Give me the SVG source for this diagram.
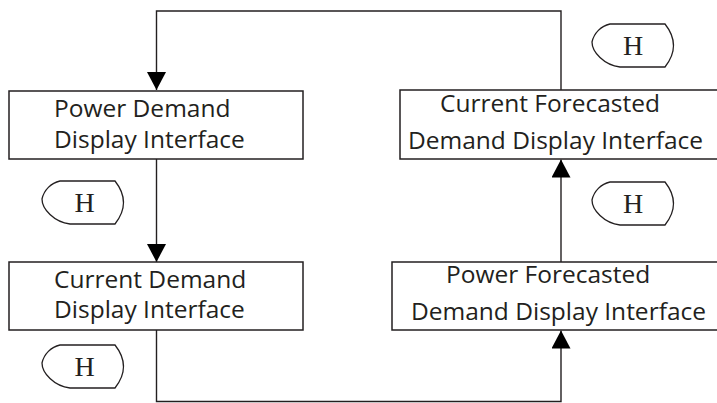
<svg xmlns="http://www.w3.org/2000/svg" width="717" height="403" viewBox="0 0 717 403">
<style>
.box{fill:#fff;stroke:#231f20;stroke-width:1.5}
.lbl{font-family:"Open Sans","Liberation Sans",sans-serif;font-size:24.5px;fill:#231f20}
.conn{fill:none;stroke:#231f20;stroke-width:1.4}
.disp{fill:#fff;stroke:#231f20;stroke-width:1.3}
.h{font-family:"Liberation Serif","Times New Roman",serif;font-size:28px;fill:#231f20;text-anchor:middle}
</style>
<defs>
<marker id="arr" viewBox="0 0 18 19" refX="18" refY="9.5" markerWidth="18" markerHeight="19" markerUnits="userSpaceOnUse" orient="auto">
<path d="M0,0 L18,9.5 L0,19 z" fill="#000"/>
</marker>
<path id="dshape" d="M18,0 L73,0 Q90,21.5 73,43 L28,43 C12,41 0,28 0,18 C2,9 9,2 18,0 Z"/>
</defs>
<g id="connectors">
<path class="conn" d="M561,90 V11 H156.5 V90" marker-end="url(#arr)"/>
<path class="conn" d="M156.5,159 V262" marker-end="url(#arr)"/>
<path class="conn" d="M156.5,330 V401.5 H561 V330.5" marker-end="url(#arr)"/>
<path class="conn" d="M561,262 V159.5" marker-end="url(#arr)"/>
</g>
<g id="node1">
<rect class="box" x="9" y="91" width="294" height="68"/>
<text class="lbl" x="54" y="117">Power Demand</text>
<text class="lbl" x="54" y="148">Display Interface</text>
</g>
<g id="node2">
<rect class="box" x="9" y="262" width="294" height="68"/>
<text class="lbl" x="54" y="288">Current Demand</text>
<text class="lbl" x="54" y="318">Display Interface</text>
</g>
<g id="node3">
<rect class="box" x="400" y="90" width="330" height="69"/>
<text class="lbl" x="440" y="112">Current Forecasted</text>
<text class="lbl" x="408" y="149">Demand Display Interface</text>
</g>
<g id="node4">
<rect class="box" x="392" y="262" width="340" height="68"/>
<text class="lbl" x="446" y="283">Power Forecasted</text>
<text class="lbl" x="411" y="320">Demand Display Interface</text>
</g>
<g id="h1">
<use href="#dshape" class="disp" x="42" y="181"/>
<text class="h" x="84.5" y="212">H</text>
</g>
<g id="h2">
<use href="#dshape" class="disp" x="42" y="345"/>
<text class="h" x="84.5" y="376">H</text>
</g>
<g id="h3">
<use href="#dshape" class="disp" x="592" y="24"/>
<text class="h" x="633" y="55">H</text>
</g>
<g id="h4">
<use href="#dshape" class="disp" x="592" y="182"/>
<text class="h" x="633" y="213">H</text>
</g>
</svg>
